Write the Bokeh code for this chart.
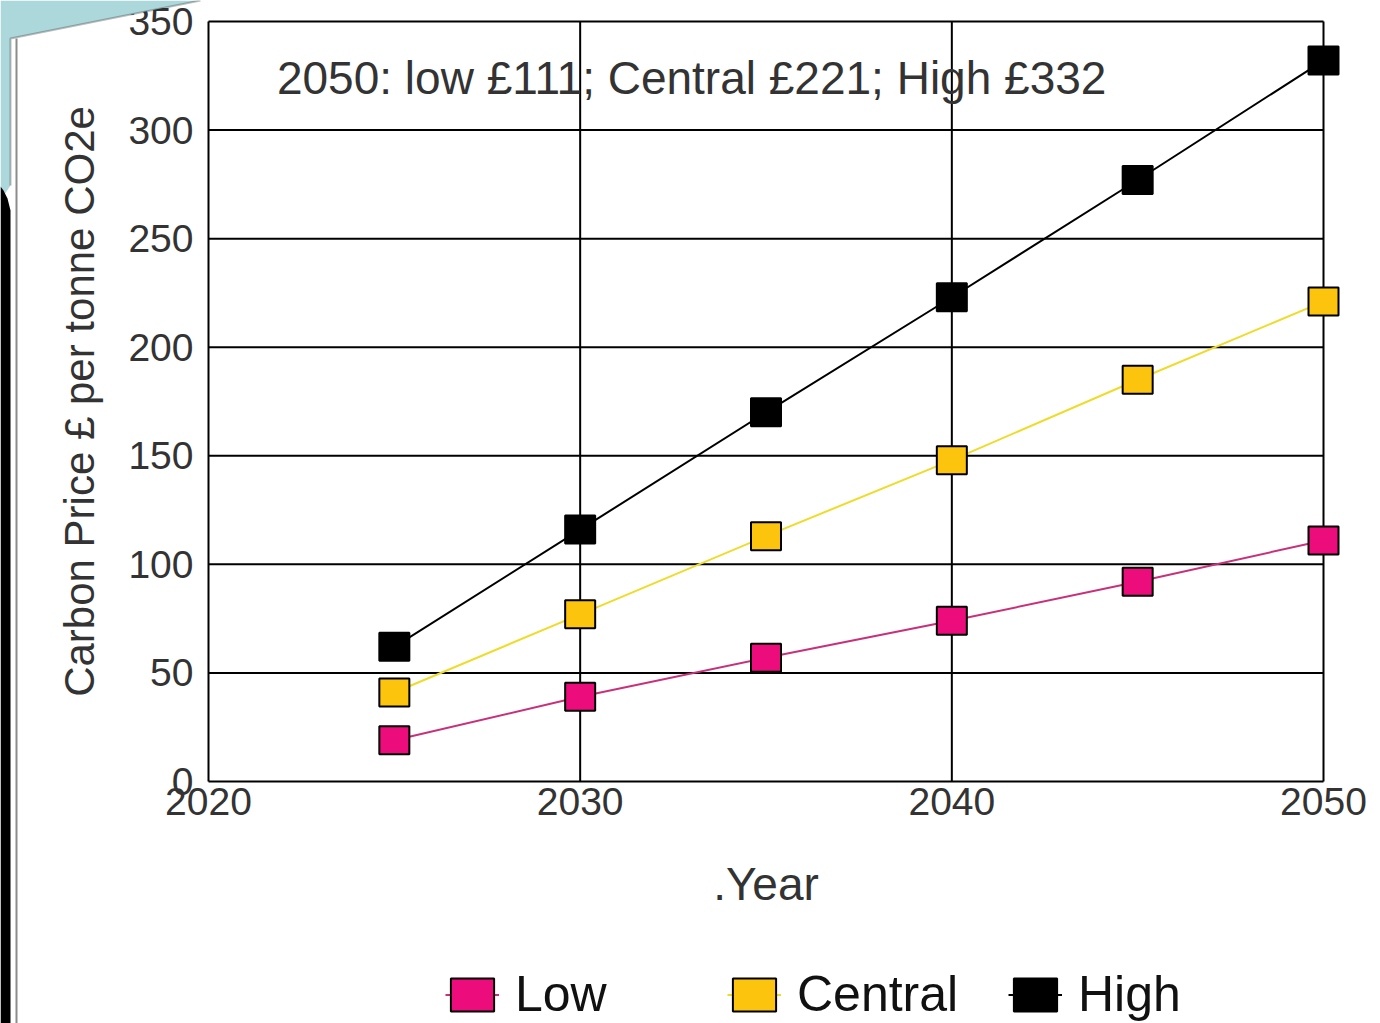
from bokeh.plotting import figure
from bokeh.models import (FixedTicker, Label, Legend, LegendItem, PolyAnnotation,
                          BoxAnnotation, ColumnDataSource, LinearAxis)
from bokeh.embed import file_html
from bokeh.resources import INLINE

years = [2025, 2030, 2035, 2040, 2045, 2050]
low = [19, 39, 57, 74, 92, 111]
central = [41, 77, 113, 148, 185, 221]
high = [62, 116, 170, 223, 277, 332]

series_names = ["Low", "Central", "High"]
fill_colors = ["#EC0C7C", "#FCC40C", "#000000"]
line_colors = ["#C8307A", "#EEDC2A", "#000000"]

x_ticks = [2020, 2030, 2040, 2050]
y_ticks = [0, 50, 100, 150, 200, 250, 300, 350]
note_text = "2050: low \u00a3111; Central \u00a3221; High \u00a3332"

FONT = "Liberation Sans"
W, H = 1380, 1023

x0, x1 = x_ticks[0], x_ticks[-1]
y0, y1 = y_ticks[0], y_ticks[-1]

# pixel placement of the plotting box on the page
PX_L, PX_R, PX_T, PX_B = 208, 1323, 21, 781
kx = (x1 - x0) / (PX_R - PX_L)
ky = (y1 - y0) / (PX_B - PX_T)
x_range = (x0 - PX_L * kx, x1 + (W - PX_R) * kx)
y_range = (y0 - (H - PX_B) * ky, y1 + PX_T * ky)

p = figure(width=W, height=H, x_range=x_range, y_range=y_range,
           output_backend="svg", toolbar_location=None,
           min_border=0, x_axis_location=None, y_axis_location=None)

p.background_fill_color = "white"
p.border_fill_color = "white"
p.outline_line_color = None
p.xgrid.visible = False
p.ygrid.visible = False

xaxis = LinearAxis(fixed_location=y0, bounds=(x0, x1), ticker=FixedTicker(ticks=x_ticks))
yaxis = LinearAxis(fixed_location=x0, bounds=(y0, y1), ticker=FixedTicker(ticks=y_ticks))
p.add_layout(xaxis, "below")
p.add_layout(yaxis, "left")
for ax in (xaxis, yaxis):
    ax.axis_line_color = None
    ax.major_tick_line_color = None
    ax.minor_tick_line_color = None
    ax.major_tick_in = 0
    ax.major_tick_out = 0
    ax.minor_tick_out = 0
    ax.major_label_text_font = FONT
    ax.major_label_text_font_size = "39px"
    ax.major_label_text_color = "#333333"
    ax.axis_label_text_font = FONT
    ax.axis_label_text_font_style = "normal"
    ax.axis_label_text_color = "#333333"

yaxis.major_label_standoff = 15
yaxis.axis_label = "Carbon Price \u00a3 per tonne CO2e"
yaxis.axis_label_text_font_size = "42px"
yaxis.axis_label_standoff = 22

xaxis.major_label_standoff = 6
xaxis.axis_label = ".Year"
xaxis.axis_label_text_font_size = "46px"
xaxis.axis_label_standoff = 40

# frame and grid lines drawn from the tick lists
p.segment(x0=x_ticks, y0=[y0] * len(x_ticks), x1=x_ticks, y1=[y1] * len(x_ticks),
          line_color="black", line_width=2)
p.segment(x0=[x0] * len(y_ticks), y0=y_ticks, x1=[x1] * len(y_ticks), y1=y_ticks,
          line_color="black", line_width=2)

# decorations of the slide frame
p.add_layout(PolyAnnotation(xs=[0, 200, 10, 10, 0], ys=[0, 0, 38, 185, 200],
                            xs_units="canvas", ys_units="canvas",
                            fill_color="#ACD8DC", fill_alpha=1,
                            line_color=None))
p.add_layout(PolyAnnotation(xs=[10, 200, 10, 10, 10], ys=[38, 0, 38, 185, 38],
                            xs_units="canvas", ys_units="canvas",
                            fill_alpha=0, line_color="#222222", line_width=2))
p.add_layout(PolyAnnotation(xs=[0, 3, 7, 10, 10, 0], ys=[186, 190, 198, 210, 1023, 1023],
                            xs_units="canvas", ys_units="canvas",
                            fill_color="black", fill_alpha=1, line_color=None))
p.add_layout(BoxAnnotation(left=15, right=17, top=38, bottom=1023,
                           left_units="canvas", right_units="canvas",
                           top_units="canvas", bottom_units="canvas",
                           fill_color="#8c8c8c", fill_alpha=1, line_color=None))

data = [low, central, high]
legend_px = [445, 727, 1008]
for name, vals, fc, lc, lx in zip(series_names, data, fill_colors, line_colors, legend_px):
    src = ColumnDataSource(dict(x=years, y=vals))
    lr = p.line("x", "y", source=src, line_color=lc, line_width=2)
    rr = p.rect("x", "y", source=src, width=30, height=28, width_units="screen",
                height_units="screen", fill_color=fc, line_color="black", line_width=2)
    leg = Legend(items=[LegendItem(label=name, renderers=[lr, rr])],
                 location=(lx, 0), orientation="horizontal",
                 padding=0, margin=0, border_line_color=None,
                 background_fill_alpha=0, glyph_width=54, glyph_height=41,
                 label_standoff=16, label_text_font=FONT,
                 label_text_font_size="50px", label_text_color="#111111",
                 label_height=41)
    p.add_layout(leg, "center")

p.add_layout(Label(x=2033, y=324, text=note_text, text_align="center",
                   text_baseline="middle", text_font=FONT,
                   text_font_size="46px", text_color="#333333"))

open("out.html", "w").write(file_html(p, INLINE))
